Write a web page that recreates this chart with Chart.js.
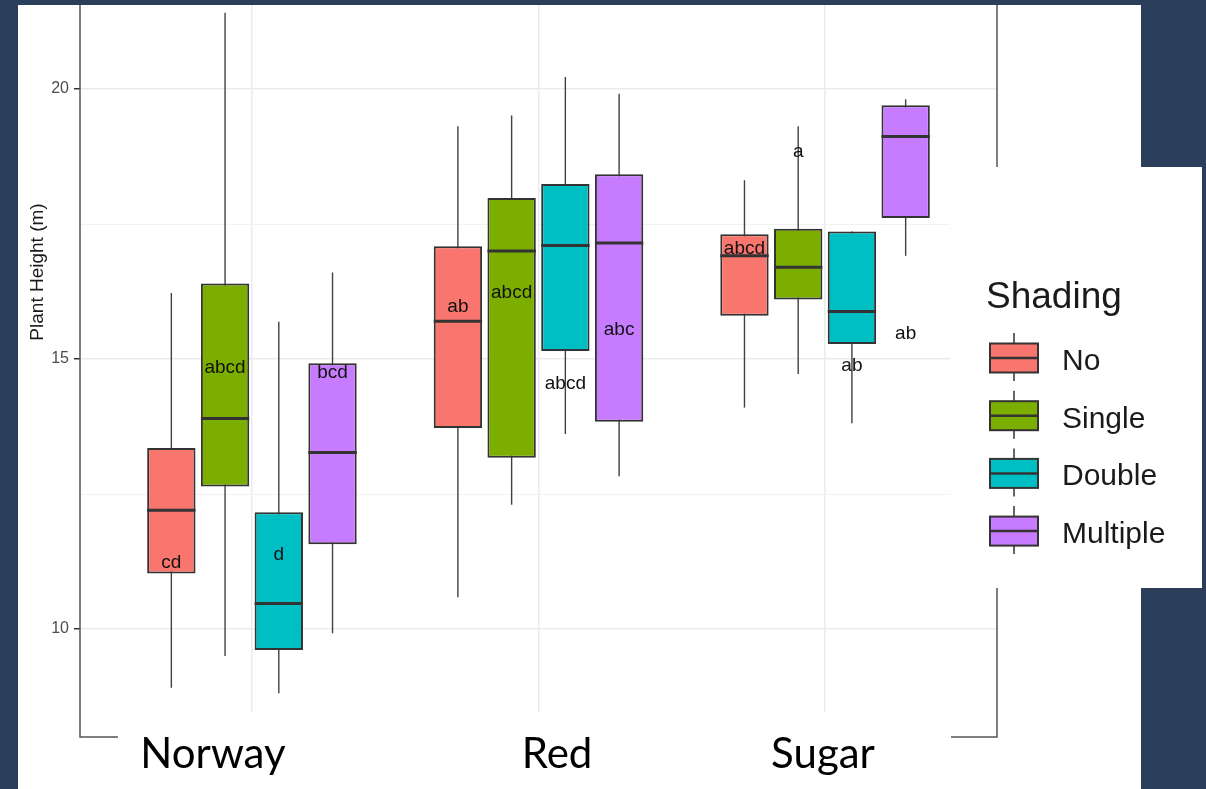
<!DOCTYPE html>
<html>
<head>
<meta charset="utf-8">
<script src="https://cdn.jsdelivr.net/npm/chart.js@4/dist/chart.umd.min.js"></script>
<style>
  html, body { margin: 0; padding: 0; background: #2b3e5a; overflow: hidden; }
  #wrap { position: absolute; left: 0; top: 0; width: 1206px; height: 789px; }
  canvas { display: block; }
</style>
</head>
<body>
<div id="wrap"><canvas id="plot" width="1206" height="789"></canvas></div>
<script>
// Sites on the x axis and shading treatments (fill groups)
const sites = ['Norway', 'Red', 'Sugar'];
const shadingLevels = ['No', 'Single', 'Double', 'Multiple'];
const shadingColors = ['#F8766D', '#7CAE00', '#00BFC4', '#C77CFF'];

// Five-number summaries per site: [lower whisker, Q1, median, Q3, upper whisker]
const boxNo       = [[8.91, 11.03, 12.20, 13.35, 16.22], [10.59, 13.72, 15.70, 17.09, 19.31], [14.10, 15.80, 16.91, 17.31, 18.31]];
const boxSingle   = [[9.50, 12.64, 13.90, 16.40, 21.41], [12.30, 13.17, 17.00, 17.98, 19.51], [14.72, 16.10, 16.70, 17.41, 19.31]];
const boxDouble   = [[8.81,  9.61, 10.47, 12.16, 15.69], [13.61, 15.15, 17.10, 18.24, 20.22], [13.81, 15.28, 15.88, 17.36, 17.36]];
const boxMultiple = [[9.92, 11.57, 13.27, 14.92, 16.60], [12.83, 13.84, 17.15, 18.42, 19.91], [16.91, 17.61, 19.12, 19.70, 19.81]];

// Compact-letter groupings and the heights (m) where they are printed
const lettersNo       = ['cd', 'ab', 'abcd'];
const lettersSingle   = ['abcd', 'abcd', 'a'];
const lettersDouble   = ['d', 'abcd', 'ab'];
const lettersMultiple = ['bcd', 'abc', 'ab'];
const letterYNo       = [11.22, 15.96, 17.05];
const letterYSingle   = [14.83, 16.23, 18.84];
const letterYDouble   = [11.37, 14.55, 14.88];
const letterYMultiple = [14.75, 15.54, 15.46];

// y axis: major ticks carry labels, minor ticks only a light grid line
const yTickValues = [10, 12.5, 15, 17.5, 20];
const yMajorTicks = [10, 15, 20];
const yTitle = 'Plant Height (m)';
const legendTitle = 'Shading';

const boxes = [boxNo, boxSingle, boxDouble, boxMultiple];
const letters = [lettersNo, lettersSingle, lettersDouble, lettersMultiple];
const letterYs = [letterYNo, letterYSingle, letterYDouble, letterYMultiple];

const datasets = shadingLevels.map((lvl, k) => ({
  label: lvl,
  data: boxes[k].map((b, i) => ({ x: i + 1, y: [b[1], b[3]] })),
  stats: boxes[k],
  letters: letters[k],
  letterY: letterYs[k],
  backgroundColor: shadingColors[k],
  borderColor: '#333333',
  borderWidth: 2,
  borderSkipped: false,
  categoryPercentage: 0.75,
  barPercentage: 0.9
}));

const isMajor = v => yMajorTicks.includes(v);

const boxplotParts = {
  id: 'boxplotParts',
  beforeDraw(chart) {
    const ctx = chart.ctx;
    ctx.save();
    ctx.fillStyle = '#ffffff';
    ctx.fillRect(18, 5, 1123, 784);
    ctx.restore();
  },
  beforeDatasetsDraw(chart) {
    // whiskers: one vertical line from lower to upper whisker, boxes cover the middle
    const ctx = chart.ctx, ys = chart.scales.y;
    ctx.save();
    ctx.strokeStyle = '#404040';
    ctx.lineWidth = 1.4;
    chart.data.datasets.forEach((ds, k) => {
      chart.getDatasetMeta(k).data.forEach((el, i) => {
        const s = ds.stats[i];
        ctx.beginPath();
        ctx.moveTo(el.x, ys.getPixelForValue(s[0]));
        ctx.lineTo(el.x, ys.getPixelForValue(s[4]));
        ctx.stroke();
      });
    });
    ctx.restore();
  },
  afterDatasetsDraw(chart) {
    const ctx = chart.ctx, ys = chart.scales.y;
    ctx.save();
    // medians
    ctx.strokeStyle = '#333333';
    ctx.lineWidth = 3;
    chart.data.datasets.forEach((ds, k) => {
      chart.getDatasetMeta(k).data.forEach((el, i) => {
        const y = ys.getPixelForValue(ds.stats[i][2]);
        ctx.beginPath();
        ctx.moveTo(el.x - el.width / 2, y);
        ctx.lineTo(el.x + el.width / 2, y);
        ctx.stroke();
      });
    });
    // group letters
    ctx.fillStyle = '#111111';
    ctx.font = '19px "Liberation Sans", Arial, sans-serif';
    ctx.textAlign = 'center';
    ctx.textBaseline = 'middle';
    chart.data.datasets.forEach((ds, k) => {
      chart.getDatasetMeta(k).data.forEach((el, i) => {
        ctx.fillText(ds.letters[i], el.x, ys.getPixelForValue(ds.letterY[i]));
      });
    });
    ctx.restore();
  },
  afterDraw(chart) {
    const ctx = chart.ctx, a = chart.chartArea;
    ctx.save();
    // panel border (open at the top)
    ctx.strokeStyle = '#555555';
    ctx.lineWidth = 1.5;
    ctx.beginPath();
    ctx.moveTo(a.left, a.top);
    ctx.lineTo(a.left, a.bottom);
    ctx.lineTo(a.right, a.bottom);
    ctx.lineTo(a.right, a.top);
    ctx.stroke();

    // site name text box under the panel
    ctx.fillStyle = '#ffffff';
    ctx.fillRect(118, 712, 833, 77);
    ctx.fillStyle = '#000000';
    ctx.font = '42px Lato, "DejaVu Sans", sans-serif';
    ctx.textAlign = 'center';
    ctx.textBaseline = 'alphabetic';
    const siteLabelX = [213, 557, 823];
    sites.forEach((s, i) => ctx.fillText(s, siteLabelX[i], 768));

    // y axis title
    ctx.save();
    ctx.translate(43, 272);
    ctx.rotate(-Math.PI / 2);
    ctx.fillStyle = '#1a1a1a';
    ctx.font = '19px "Liberation Sans", Arial, sans-serif';
    ctx.textAlign = 'center';
    ctx.textBaseline = 'alphabetic';
    ctx.fillText(yTitle, 0, 0);
    ctx.restore();

    // legend panel
    ctx.fillStyle = '#ffffff';
    ctx.fillRect(950, 167, 252, 421);
    ctx.fillStyle = '#1a1a1a';
    ctx.font = '37px "Liberation Sans", Arial, sans-serif';
    ctx.textAlign = 'left';
    ctx.fillText(legendTitle, 986, 307.5);
    ctx.font = '30px "Liberation Sans", Arial, sans-serif';
    chart.data.datasets.forEach((ds, k) => {
      const cy = 358 + k * 57.7;
      const kx = 990, kw = 48, kh = 29;
      ctx.strokeStyle = '#333333';
      ctx.lineWidth = 1.5;
      ctx.beginPath();
      ctx.moveTo(kx + kw / 2, cy - 25);
      ctx.lineTo(kx + kw / 2, cy + 23);
      ctx.stroke();
      ctx.fillStyle = ds.backgroundColor;
      ctx.fillRect(kx, cy - kh / 2, kw, kh);
      ctx.lineWidth = 2;
      ctx.strokeRect(kx, cy - kh / 2, kw, kh);
      ctx.lineWidth = 2.5;
      ctx.beginPath();
      ctx.moveTo(kx, cy);
      ctx.lineTo(kx + kw, cy);
      ctx.stroke();
      ctx.fillStyle = '#1a1a1a';
      ctx.fillText(ds.label, 1062, cy + 12);
    });
    ctx.restore();
  }
};

new Chart(document.getElementById('plot'), {
  type: 'bar',
  data: { datasets },
  options: {
    responsive: false,
    animation: false,
    events: [],
    layout: { padding: { left: 0, right: 209, top: 5, bottom: 52 } },
    plugins: { legend: { display: false }, tooltip: { enabled: false } },
    scales: {
      x: {
        type: 'linear',
        offset: false,
        min: 0.4,
        max: 3.6,
        afterBuildTicks: s => { s.ticks = sites.map((_, i) => ({ value: i + 1 })); },
        afterFit: s => { s.height = 0; s.paddingLeft = 0; s.paddingRight = 0; },
        ticks: { display: false },
        border: { display: false },
        grid: { offset: false, color: '#ebebeb', lineWidth: 1.5, drawTicks: false }
      },
      y: {
        min: 8,
        max: 20 + 84 / 54,
        afterBuildTicks: s => { s.ticks = yTickValues.map(v => ({ value: v })); },
        afterFit: s => { s.width = 80; s.paddingTop = 0; s.paddingBottom = 0; },
        border: { display: false },
        grid: {
          color: c => isMajor(c.tick && c.tick.value) ? '#ebebeb' : '#f2f2f2',
          lineWidth: c => isMajor(c.tick && c.tick.value) ? 1.5 : 1,
          tickColor: c => isMajor(c.tick && c.tick.value) ? '#333333' : 'rgba(0,0,0,0)',
          tickLength: 6,
          drawTicks: true
        },
        ticks: {
          padding: 5,
          color: '#4d4d4d',
          font: { family: '"Liberation Sans", Arial, sans-serif', size: 16 },
          callback: v => isMajor(v) ? String(v) : ''
        }
      }
    }
  },
  plugins: [boxplotParts]
});
</script>
</body>
</html>
